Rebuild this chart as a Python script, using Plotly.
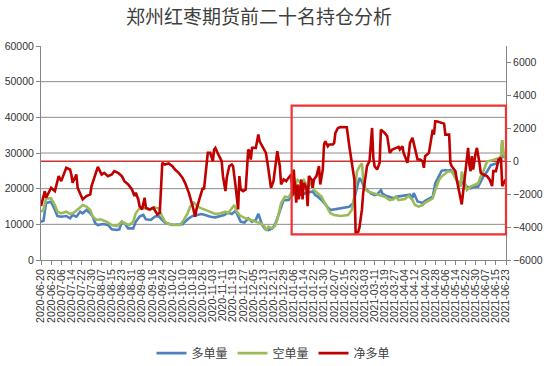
import pandas as pd
import plotly.graph_objects as go

TITLE = "郑州红枣期货前二十名持仓分析"
START = "2020-06-20"
END = "2021-06-23"

# day offsets from START and values (left axis: long / short, right axis: net)
LONG_DAYS = [0, 2, 4, 8, 11, 13, 16, 20, 23, 25, 28, 31, 33, 36, 39, 41, 43, 45, 49, 53, 56, 60, 62, 64, 66, 69,
             73, 75, 78, 81, 83, 87, 90, 93, 96, 98, 104, 109, 112, 114, 117, 120, 124, 127, 130, 134, 138, 142,
             145, 148, 151, 154, 156, 158, 161, 164, 167, 170, 172, 175, 177, 180, 183, 185, 187, 190, 192, 196,
             199, 203, 206, 209, 212, 215, 217, 219, 222, 224, 227, 229, 232, 237, 241, 244, 247, 250, 252, 254,
             256, 258, 261, 264, 266, 269, 270, 273, 276, 279, 281, 283, 288, 292, 294, 295, 298, 302, 304, 307,
             310, 312, 315, 317, 320, 322, 324, 327, 329, 332, 334, 337, 340, 343, 346, 348, 350, 353, 356, 359,
             361, 364, 365, 366, 368]
LONG_VALS = [10750, 11000, 16000, 16360, 14000, 12340, 12150, 12340, 11680, 12620, 12150, 13550, 13085, 14020,
             13085, 12150, 10280, 9810, 10090, 9810, 8600, 8410, 8600, 10750, 10280, 8880, 8880, 10750, 12150,
             12620, 11400, 11220, 12150, 12340, 11200, 10500, 9800, 9800, 10000, 10750, 11700, 12340, 12600,
             12900, 12620, 12150, 11960, 12340, 12620, 13300, 12900, 13800, 12340, 10750, 10500, 11700, 10750,
             11220, 13000, 9810, 8880, 8410, 8880, 9800, 11680, 15000, 16800, 16820, 18700, 18690, 18200, 18690,
             19000, 19200, 18200, 17760, 16820, 15890, 14760, 14020, 14200, 14500, 14760, 14950, 15890, 20560,
             23000, 22000, 20000, 19600, 18700, 18200, 18400, 19600, 18700, 18000, 17700, 17300, 17700, 17800,
             18000, 18300, 17400, 18800, 16400, 16000, 16600, 17200, 17760, 21500, 23800, 25000, 25240, 25050,
             25240, 24300, 22430, 21000, 21900, 20560, 20100, 20560, 20560, 21900, 23370, 24800, 26600, 26900,
             27100, 28000, 33500, 29000, 28500]

SHORT_DAYS = [0, 2, 4, 8, 11, 13, 16, 20, 23, 25, 28, 31, 33, 36, 39, 41, 44, 47, 52, 56, 60, 64, 66, 70, 73, 75,
              78, 82, 86, 90, 93, 96, 98, 101, 106, 110, 113, 116, 118, 121, 124, 127, 130, 134, 138, 142, 146,
              148, 151, 153, 155, 158, 162, 166, 170, 174, 177, 178, 180, 183, 185, 187, 190, 193, 196, 200, 203,
              206, 208, 211, 214, 216, 219, 222, 224, 227, 229, 232, 237, 243, 246, 248, 250, 252, 254, 255, 257,
              259, 264, 268, 272, 276, 279, 281, 283, 288, 291, 294, 296, 299, 302, 304, 307, 310, 312, 315, 317,
              320, 322, 325, 328, 331, 332, 333, 335, 337, 340, 343, 346, 348, 350, 353, 356, 359, 362, 364, 365,
              366, 368]
SHORT_VALS = [13550, 14020, 17290, 17290, 15420, 13550, 13085, 13550, 12900, 13085, 13830, 14770, 15420, 14950,
              14020, 12150, 11220, 11400, 10750, 9810, 9530, 10750, 10280, 9810, 10750, 13085, 14490, 14490,
              14020, 14770, 14490, 12150, 10750, 10090, 9810, 9810, 11220, 13085, 14950, 16070, 14950, 14490,
              14020, 13550, 12900, 13085, 13550, 13085, 14490, 15420, 13550, 12340, 11680, 11220, 10750, 10280,
              9340, 8220, 9340, 8880, 9500, 11220, 15890, 17760, 17580, 20100, 22430, 21500, 22430, 20560, 21500,
              19630, 18690, 17760, 16350, 14500, 13090, 12620, 12340, 12620, 14020, 17760, 24770, 26170, 27100,
              22430, 19630, 19160, 18690, 18220, 17760, 16820, 17000, 17760, 16800, 17100, 18000, 16800, 15400,
              14950, 15400, 16100, 16800, 17300, 19600, 22400, 23400, 24300, 24800, 24800, 22900, 21500, 20600,
              24800, 22400, 19600, 20600, 21000, 21500, 23400, 24800, 27600, 28000, 28200, 28500, 29000, 33600,
              29900, 28000]

NET_DAYS = [0, 3, 4, 8, 11, 14, 16, 20, 23, 24, 25, 28, 29, 32, 33, 36, 39, 40, 42, 45, 48, 50, 53, 56, 58, 61,
            64, 66, 69, 72, 74, 75, 77, 78, 80, 82, 83, 86, 89, 92, 94, 95, 96, 98, 101, 104, 106, 109, 112, 114,
            117, 120, 122, 123, 126, 128, 129, 131, 132, 134, 136, 137, 138, 141, 143, 144, 146, 147, 149, 151,
            152, 154, 156, 157, 158, 160, 162, 164, 165, 166, 167, 170, 171, 172, 173, 175, 178, 180, 182, 184,
            185, 187, 189, 190, 192, 194, 196, 198, 199, 200, 202, 203, 204, 206, 207, 208, 210, 211, 212, 214,
            215, 216, 218, 219, 220, 221, 223, 224, 225, 227, 228, 231, 232, 233, 235, 237, 240, 242, 244, 246,
            248, 249, 251, 252, 254, 255, 257, 258, 260, 261, 262, 263, 264, 266, 268, 269, 272, 274, 276, 278,
            281, 283, 284, 286, 287, 290, 291, 292, 294, 296, 298, 300, 302, 303, 304, 307, 308, 310, 311, 312,
            313, 316, 319, 320, 323, 324, 325, 327, 328, 329, 331, 333, 334, 336, 338, 339, 340, 341, 342, 344,
            345, 347, 348, 350, 353, 355, 357, 358, 360, 361, 362, 364, 365, 367, 368]
NET_VALS = [-2725, -1816, -2220, -1614, -1816, -907, -1210, -402, -503, -806, -1311, -806, -1614, -2220, -2321,
            -2119, -2018, -1513, -1008, -341, -806, -705, -907, -806, -604, -705, -907, -1210, -1412, -1715,
            -2119, -1917, -2321, -2725, -2927, -2220, -2826, -2927, -2826, -3230, -3129, -1412, -99, -200, -139,
            -301, -503, -705, -1008, -1311, -1917, -2725, -3371, -2927, -2119, -1614, -1715, -301, 507, 507, 2,
            709, 810, 305, 2, -907, -1816, -1008, -301, -200, -301, -1513, -2927, -907, -1715, -1816, -1715, 709,
            608, 103, 810, 810, 1214, 1618, 1214, 911, 507, -503, -1614, -1210, -604, 606, -301, -1412, -1109,
            -1210, -1008, -806, -2119, -503, -2523, -1412, -2321, -1109, -2321, -1311, -1614, -2725, -907, -1109,
            -1614, -1109, -907, -503, -301, -1412, -503, 1012, 1214, 911, 1012, 1012, 1113, 1719, 2022, 2083,
            2083, 2063, 911, -99, -1109, -4341, -4301, -4038, -2927, -1917, -1008, -301, 2, 1315, 2022, 204,
            -301, -503, -99, 1921, 1719, 1517, 507, 709, 810, 871, 709, 911, 507, -99, 406, 1113, 1416, 709, 103,
            103, 2, -402, 305, 507, 911, 1921, 1618, 2426, 2426, 2365, 2285, 1618, 1618, -99, -301, -503, -604,
            -1109, -1917, -2624, -1917, -705, 810, -200, -604, 305, -503, 507, 810, -99, -705, -806, -907, -1109,
            -1513, -604, -604, -301, 103, 204, -1513, -1210, -1311]

SERIES = [("多单量", LONG_DAYS, LONG_VALS, "#4F81BD", "y"),
          ("空单量", SHORT_DAYS, SHORT_VALS, "#9BBB59", "y"),
          ("净多单", NET_DAYS, NET_VALS, "#C00000", "y2")]

GRID_LEVELS = [10000, 20000, 30000, 40000, 50000]

start = pd.Timestamp(START)
fig = go.Figure()
for name, days, vals, color, axis in SERIES:
    x = start + pd.to_timedelta(days, unit="D")
    fig.add_trace(go.Scatter(x=x, y=vals, name=name, mode="lines", yaxis=axis,
                             line=dict(color=color, width=2.6)))

tick_font = dict(family="Liberation Sans, Arial, sans-serif", size=10.5, color="#333333")
axis_gray = "#868686"

shapes = []
for g in GRID_LEVELS:
    shapes.append(dict(type="line", xref="paper", x0=0, x1=1, yref="y", y0=g, y1=g,
                       line=dict(color="#8C8C8C", width=1), layer="below"))
shapes.append(dict(type="line", xref="paper", x0=0, x1=1, yref="y2", y0=0, y1=0,
                   line=dict(color="#CC3333", width=1.5), layer="below"))
shapes.append(dict(type="rect", xref="paper", yref="paper", x0=0.539, x1=1.0, y0=0.120, y1=0.721,
                   line=dict(color="#EE3333", width=2.2), fillcolor="rgba(0,0,0,0)", layer="above"))

fig.update_layout(
    width=550, height=366,
    margin=dict(l=40.5, r=44, t=46, b=106, autoexpand=False),
    paper_bgcolor="white", plot_bgcolor="white",
    title=dict(text=TITLE, x=259 / 550, xanchor="center", xref="container",
               y=1 - 17 / 366, yanchor="middle",
               font=dict(family="Noto Sans CJK SC", size=19, color="#404040")),
    xaxis=dict(type="date", range=[START, END], tick0=START, dtick=8 * 86400000,
               tickformat="%Y-%m-%d", tickangle=-90, showgrid=False, zeroline=False,
               showline=True, linecolor=axis_gray, linewidth=1, ticks="outside",
               ticklen=4, tickcolor=axis_gray, tickfont=tick_font),
    yaxis=dict(range=[0, 60000], dtick=10000, tick0=0, tickformat="d", showgrid=False,
               zeroline=False, showline=True, linecolor=axis_gray, linewidth=1,
               ticks="outside", ticklen=4, tickcolor=axis_gray, tickfont=tick_font),
    yaxis2=dict(range=[-6000, 7000], tick0=-6000, dtick=2000, tickformat="d", overlaying="y",
                side="right", showgrid=False, zeroline=False, showline=True,
                linecolor=axis_gray, linewidth=1, ticks="outside", ticklen=4,
                tickcolor=axis_gray, tickfont=tick_font),
    legend=dict(orientation="h", x=0.5, xanchor="center", y=-0.435, yanchor="middle",
                font=dict(family="Noto Sans CJK SC", size=12, color="#404040"),
                bgcolor="rgba(0,0,0,0)"),
    shapes=shapes,
)

# remove the browser's default 8px page margin so the figure sits at the window origin
fig.write_html("out.html", config={"displayModeBar": False},
               post_script="document.body.style.margin='0px';")
